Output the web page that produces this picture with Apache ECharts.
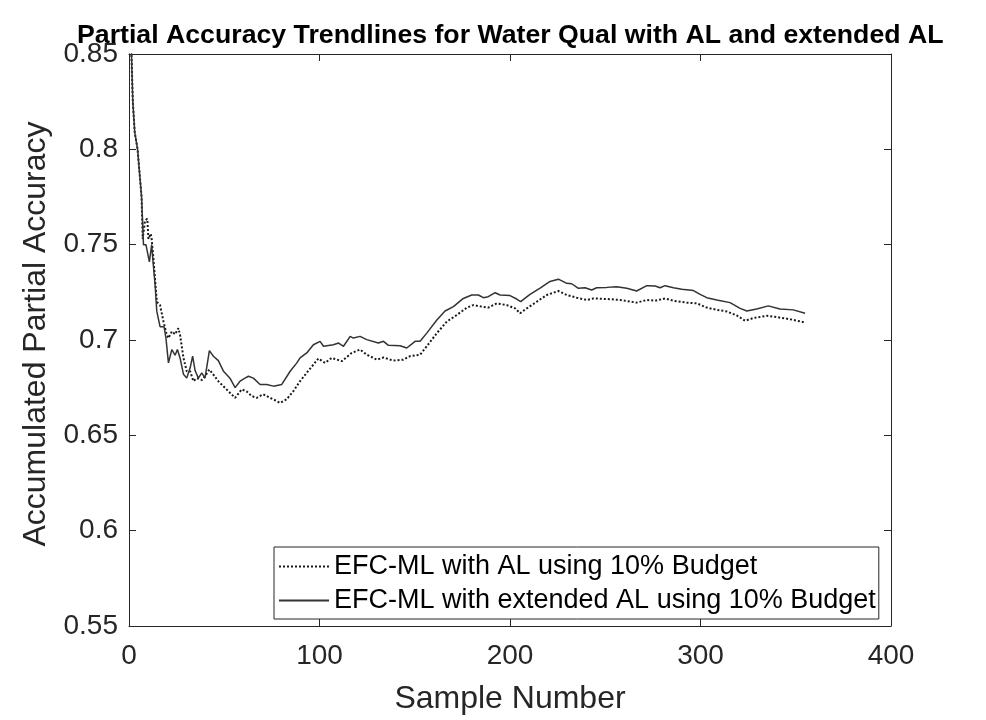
<!DOCTYPE html>
<html>
<head>
<meta charset="utf-8">
<script src="https://cdn.jsdelivr.net/npm/echarts@6/dist/echarts.min.js"></script>
<style>
  html, body { margin: 0; padding: 0; background: #fff; }
  #main { width: 986px; height: 720px; }
</style>
</head>
<body>
<div id="main"></div>
<script>
// sample numbers / accumulated partial accuracy
var alX = [1, 2, 3, 4.5, 6.6, 7.2, 8.4, 9.6, 10.2, 11.4, 11.9, 12.8, 14.6, 16.3, 18.1, 19.8, 20.7, 22.5, 24.2, 25.9,
  26.8, 28.6, 30.3, 32.1, 33.8, 35.6, 38.2, 39.9, 42.2, 44.3, 46.9, 49.5, 53, 55.7, 59.2, 61.8, 64.4, 67, 70.5, 74,
  77.5, 79.3, 82.8, 86.3, 89.8, 93.3, 96.8, 99.4, 102.9, 106.4, 111.7, 116.9, 121.3, 124.8, 130.1, 133.6, 138.7, 144, 147.5, 152.8,
  156.3, 161.6, 166.9, 172.2, 177.4, 180.8, 185.2, 188.6, 193.1, 198.3, 202.7, 205.3, 208.8, 214.1, 219.3, 225.4, 229.8, 235, 240.3, 243.8,
  250.8, 257.8, 266.5, 271.8, 276.2, 281.4, 285.8, 292.8, 298.1, 303.3, 308.6, 313.8, 319, 323.4, 327.7, 334.8, 340, 347, 354.9];
var alY = [0.86, 0.825, 0.809, 0.8, 0.775, 0.753, 0.7627, 0.7635, 0.753, 0.7557, 0.753, 0.743, 0.72, 0.7183, 0.7097, 0.7027, 0.701, 0.7045, 0.703, 0.7062,
  0.7027, 0.6906, 0.6836, 0.6836, 0.6784, 0.68, 0.679, 0.681, 0.6845, 0.6818, 0.6784, 0.6758, 0.6723, 0.6697, 0.6741, 0.673, 0.6706, 0.6697, 0.6715, 0.6697,
  0.668, 0.667, 0.6689, 0.6732, 0.6784, 0.6828, 0.6871, 0.6903, 0.688, 0.6906, 0.6889, 0.6932, 0.695, 0.6923, 0.6897, 0.6908, 0.6892, 0.6897, 0.6915, 0.6923,
  0.6967, 0.7036, 0.7097, 0.7132, 0.717, 0.7183, 0.7175, 0.717, 0.7192, 0.7183, 0.7166, 0.714, 0.7166, 0.7201, 0.7236, 0.7257, 0.7236, 0.7222, 0.721, 0.7218,
  0.7215, 0.721, 0.7196, 0.721, 0.7206, 0.7218, 0.7206, 0.7196, 0.7192, 0.717, 0.7158, 0.715, 0.7129, 0.7101, 0.7115, 0.7127, 0.712, 0.7109, 0.7092];

var extX = [1, 2, 3, 4.5, 6.6, 7.6, 8.9, 10.7, 11.9, 12.8, 13.7, 14.6, 16.3, 18.4, 19.4, 20.7, 22.5, 24.2, 25.4, 26.8,
  28.6, 30.3, 32.1, 33.4, 34.7, 36.4, 38.2, 39.9, 42.2, 44.3, 46.9, 49.5, 53, 55.7, 58.3, 60.9, 62.7, 65.3, 68.8, 72.3,
  75.8, 80.2, 84.6, 88.1, 89.8, 93.3, 96.8, 100.3, 102.1, 107.3, 110, 112.6, 116.1, 117.8, 121.3, 124.8, 130.9, 133.6, 136.2, 142.3,
  145.8, 150.2, 152.8, 156.3, 161.6, 165.9, 170.3, 175.5, 179.9, 183.4, 186, 188.6, 192.2, 194.8, 200, 203.5, 205.6, 210.5, 215.8, 221,
  225.4, 229.8, 232.4, 235.9, 239.4, 242.9, 245.5, 250.8, 256, 261.3, 266.5, 271.8, 276.2, 278.8, 281.4, 285.8, 290.2, 296.3, 299.8, 303.3,
  308.6, 315.5, 320.8, 324.3, 329.5, 335.6, 341.7, 348.7, 354.9];
var extY = [0.86, 0.825, 0.809, 0.8, 0.775, 0.75, 0.75, 0.741, 0.75, 0.739, 0.729, 0.715, 0.707, 0.707, 0.701, 0.688, 0.695, 0.692, 0.695, 0.6906,
  0.682, 0.68, 0.6854, 0.6915, 0.684, 0.68, 0.6828, 0.68, 0.6944, 0.6915, 0.6892, 0.6838, 0.68, 0.675, 0.6784, 0.68, 0.681, 0.68, 0.6767, 0.6767,
  0.6758, 0.6767, 0.6836, 0.688, 0.6906, 0.6932, 0.6975, 0.6993, 0.6967, 0.6975, 0.6984, 0.6967, 0.7019, 0.701, 0.7019, 0.7002, 0.6984, 0.6993, 0.6972, 0.697,
  0.6958, 0.6993, 0.6993, 0.7036, 0.7105, 0.7152, 0.7175, 0.7218, 0.7236, 0.7236, 0.7222, 0.7227, 0.7248, 0.7236, 0.7233, 0.7215, 0.7201, 0.7239, 0.7272, 0.7307,
  0.7319, 0.7297, 0.7295, 0.7271, 0.7274, 0.7262, 0.7274, 0.7276, 0.7279, 0.7271, 0.7257, 0.7285, 0.7283, 0.7274, 0.7285, 0.7274, 0.7266, 0.7259, 0.7239, 0.7222,
  0.721, 0.7196, 0.7166, 0.7152, 0.7163, 0.7179, 0.7163, 0.7158, 0.714];

var seriesNames = ["EFC-ML with AL using 10% Budget", "EFC-ML with extended AL using 10% Budget"];

function pairs(xs, ys) {
  return xs.map(function (x, i) { return [x, ys[i]]; });
}

var font = "'Liberation Sans', Arial, sans-serif";
var axisColor = "#262626";

var myChart = echarts.init(document.getElementById("main"));

// every side of the box gets a line and inward ticks
function boxAxis(extra) {
  return Object.assign({
    axisLine: { show: true, onZero: false, lineStyle: { color: axisColor, width: 1 } },
    axisTick: { show: true, inside: true, length: 7, lineStyle: { color: axisColor } },
    splitLine: { show: false },
  }, extra);
}

option = {
  backgroundColor: "#fff",
  animation: false,
  title: {
    text: "Partial Accuracy Trendlines for Water Qual with AL and extended AL",
    left: 72,
    top: 17,
    textStyle: { fontFamily: font, fontSize: 26.7, fontWeight: "bold", color: "#000" },
  },
  legend: {
    orient: "vertical",
    left: 274,
    top: 547,
    padding: [6, 3, 5, 4],
    itemGap: 7,
    itemWidth: 50,
    itemHeight: 14,
    borderColor: axisColor,
    borderWidth: 1,
    backgroundColor: "#fff",
    itemStyle: { opacity: 0 },
    textStyle: { fontFamily: font, fontSize: 27, color: "#000" },
    data: seriesNames,
  },
  grid: { left: 129, right: 95, top: 54, bottom: 92 },
  xAxis: [
    boxAxis({
      type: "value", min: 0, max: 400, interval: 100, position: "bottom",
      name: "Sample Number", nameLocation: "middle", nameGap: 57,
      nameTextStyle: { fontFamily: font, fontSize: 32, color: axisColor },
      axisLabel: { fontFamily: font, fontSize: 28, color: axisColor, margin: 16 },
    }),
    boxAxis({
      type: "value", min: 0, max: 400, interval: 100, position: "top",
      axisLabel: { show: false },
    }),
  ],
  yAxis: [
    boxAxis({
      type: "value", min: 0.55, max: 0.85, interval: 0.05, position: "left",
      name: "Accumulated Partial Accuracy", nameLocation: "middle", nameGap: 76,
      nameTextStyle: { fontFamily: font, fontSize: 32, color: axisColor, padding: [0, 0, 0, 12] },
      axisLabel: { fontFamily: font, fontSize: 28, color: axisColor, margin: 11, padding: [8, 0, 0, 0] },
    }),
    boxAxis({
      type: "value", min: 0.55, max: 0.85, interval: 0.05, position: "right",
      axisLabel: { show: false },
    }),
  ],
  series: [
    {
      name: seriesNames[0], type: "line", showSymbol: false, symbol: "none",
      xAxisIndex: 0, yAxisIndex: 0, clip: true,
      data: pairs(alX, alY),
      itemStyle: { color: "#1a1a1a" },
      lineStyle: { color: "#1a1a1a", width: 2, type: "dotted" },
    },
    {
      name: seriesNames[1], type: "line", showSymbol: false, symbol: "none",
      xAxisIndex: 0, yAxisIndex: 0, clip: true,
      data: pairs(extX, extY),
      itemStyle: { color: "#333" },
      lineStyle: { color: "#333", width: 1.5, type: "solid" },
    },
  ],
};

myChart.setOption(option);
window.addEventListener("resize", function () {
  myChart.resize();
});
</script>
</body>
</html>
